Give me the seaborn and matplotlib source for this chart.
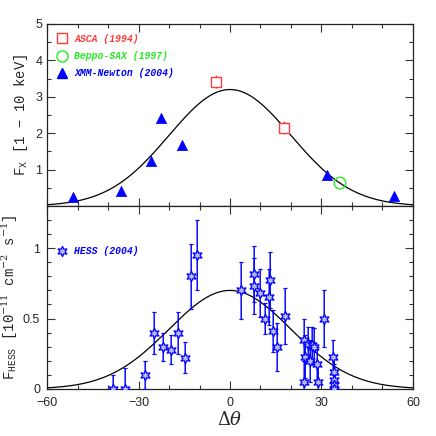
import numpy as np
import pandas as pd
import matplotlib
matplotlib.use("Agg")
import matplotlib.pyplot as plt
from matplotlib.ticker import MultipleLocator
from matplotlib.lines import Line2D
import seaborn as sns

# ---------------- data ----------------
asca_x = [-4.7, 17.8]
asca_y = [3.42, 2.15]
asca_err = [0.18, 0.18]

sax_x = [36.1]
sax_y = [0.63]

xmm_x = [-51.6, -35.6, -25.9, -22.5, -15.8, 31.7, 53.8]
xmm_y = [0.25, 0.40, 1.24, 2.42, 1.68, 0.84, 0.27]

hess_x = [-38.3, -34.5, -27.8, -24.8, -22.1, -19.3, -16.9, -14.8, -12.8, -10.9,
          3.6, 8.0, 8.0, 9.8, 13.1, 12.8, 11.5, 14.2, 15.5, 18.0, 30.8,
          24.3, 24.6, 24.3, 25.7, 26.3, 26.8, 27.5, 28.5, 28.9,
          33.9, 34.2, 34.2, 34.0, 34.0]
hess_y = [0.0, 0.0, 0.10, 0.40, 0.30, 0.28, 0.40, 0.22, 0.80, 0.95,
          0.70, 0.815, 0.73, 0.68, 0.775, 0.655, 0.50, 0.41, 0.30, 0.52, 0.50,
          0.35, 0.23, 0.05, 0.32, 0.20, 0.31, 0.30, 0.18, 0.05,
          0.23, 0.12, 0.06, 0.03, 0.0]
hess_err = [0.10, 0.15, 0.10, 0.15, 0.10, 0.10, 0.15, 0.11, 0.23, 0.25,
            0.20, 0.20, 0.20, 0.17, 0.20, 0.20, 0.11, 0.15, 0.17, 0.20, 0.20,
            0.15, 0.15, 0.15, 0.12, 0.15, 0.13, 0.13, 0.12, 0.12,
            0.12, 0.12, 0.12, 0.10, 0.10]

# Gaussian model parameters
x_amp = 3.2
hess_amp = 0.7
sigma = 20.0
theta = np.linspace(-60, 60, 400)

# ---------------- style ----------------
sns.set_style("ticks")
plt.rcParams['font.family'] = ['Liberation Sans', 'DejaVu Sans']
plt.rcParams['mathtext.fontset'] = 'dejavuserif'

RED = '#ff3a3a'
GREEN = '#22ee22'
BLUE = '#0000ff'
LEGPROP = {'family': 'Liberation Mono', 'style': 'italic', 'weight': 'bold', 'size': 7}

fig = plt.figure(figsize=(4.36, 4.36), dpi=100)
ax1 = fig.add_axes([0.108, 0.5275, 0.839, 0.4175])
ax2 = fig.add_axes([0.108, 0.108, 0.839, 0.4195])

# ---- top panel ----
sns.lineplot(x=theta, y=x_amp * np.exp(-theta**2 / (2 * sigma**2)), ax=ax1,
             color='black', lw=0.9, zorder=2)
ax1.errorbar(asca_x, asca_y, yerr=asca_err, fmt='none', ecolor=RED, elinewidth=1.0, zorder=3)
sns.scatterplot(x=asca_x, y=asca_y, ax=ax1, marker='s', s=45, facecolor='white',
                edgecolor=RED, linewidth=1.0, zorder=4)
sns.scatterplot(x=sax_x, y=sax_y, ax=ax1, marker='o', s=70, facecolor='none',
                edgecolor=GREEN, linewidth=1.0, zorder=4)
sns.scatterplot(x=xmm_x, y=xmm_y, ax=ax1, marker='^', s=55, color=BLUE,
                edgecolor=BLUE, linewidth=0.5, zorder=4)

ax1.set_xlim(-60, 60)
ax1.set_ylim(0, 5)
ax1.xaxis.set_major_locator(MultipleLocator(30))
ax1.xaxis.set_minor_locator(MultipleLocator(10))
ax1.yaxis.set_major_locator(MultipleLocator(1))
ax1.yaxis.set_minor_locator(MultipleLocator(0.5))
ax1.set_yticks([1, 2, 3, 4, 5])
ax1.tick_params(axis='x', labelbottom=False)

handles1 = [
    Line2D([], [], marker='s', ls='none', mfc='white', mec=RED, ms=6.5, mew=1.0),
    Line2D([], [], marker='o', ls='none', mfc='none', mec=GREEN, ms=8, mew=1.0),
    Line2D([], [], marker='^', ls='none', mfc=BLUE, mec=BLUE, ms=7),
]
ax1.legend(handles1, ['ASCA (1994)', 'Beppo-SAX (1997)', 'XMM-Newton (2004)'],
           loc='upper left', frameon=False, handletextpad=0.8,
           labelspacing=0.75, borderaxespad=0.5, borderpad=0.5, handlelength=1.0,
           labelcolor=[RED, GREEN, BLUE], prop=LEGPROP)
ax1.set_ylabel('F$_\\mathregular{X}$ [1 − 10 keV]', family='Liberation Mono',
               fontsize=10, labelpad=4)

# ---- bottom panel ----
sns.lineplot(x=theta, y=hess_amp * np.exp(-theta**2 / (2 * sigma**2)), ax=ax2,
             color='black', lw=0.9, zorder=2)
ax2.errorbar(hess_x, hess_y, yerr=hess_err, fmt='none', ecolor=BLUE, alpha=0.55,
             elinewidth=1.4, capsize=1.5, capthick=1.0, zorder=3)
ax2.errorbar(hess_x, hess_y, yerr=hess_err, fmt='none', ecolor=BLUE,
             elinewidth=0.6, capsize=1.5, capthick=0.6, zorder=3)
sns.scatterplot(x=hess_x, y=hess_y, ax=ax2, marker=(6, 1, 0), s=55,
                facecolor='#b8b8ff', edgecolor=BLUE, linewidth=0.9, zorder=4)

ax2.set_xlim(-60, 60)
ax2.set_ylim(0, 1.3)
ax2.xaxis.set_major_locator(MultipleLocator(30))
ax2.xaxis.set_minor_locator(MultipleLocator(10))
ax2.yaxis.set_major_locator(MultipleLocator(0.5))
ax2.yaxis.set_minor_locator(MultipleLocator(0.1))
ax2.set_yticks([0, 0.5, 1])
ax2.set_yticklabels(['0', '0.5', '1'])
ax2.set_xticks([-60, -30, 0, 30, 60])
ax2.set_xticklabels(['−60', '−30', '0', '30', '60'])

handles2 = [Line2D([], [], marker=(6, 1, 0), ls='none', mfc='#b8b8ff', mec=BLUE,
                   ms=7.5, mew=0.9)]
ax2.legend(handles2, ['HESS (2004)'], loc='upper left', frameon=False,
           handletextpad=0.8, handlelength=1.0, borderaxespad=0.5, borderpad=0.5,
           bbox_to_anchor=(0.0, 0.835),
           labelcolor=[BLUE], prop=LEGPROP)
ax2.set_ylabel('F$_\\mathregular{HESS}$ [10$^{-11}$ cm$^{-2}$ s$^{-1}$]',
               family='Liberation Mono', fontsize=10, labelpad=2)
ax2.set_xlabel(r'$\Delta\theta$', fontsize=13, labelpad=1)

for ax in (ax1, ax2):
    ax.tick_params(which='both', direction='in', top=True, right=True,
                   labelsize=9, width=0.8, color='#333333')
    ax.tick_params(which='major', length=6)
    ax.tick_params(which='minor', length=3)
    for sp in ax.spines.values():
        sp.set_linewidth(0.9)
        sp.set_color('#222222')
ax2.tick_params(axis='x', pad=6)
ax2.tick_params(axis='y', pad=5)

fig.savefig('out.png', dpi=100)
